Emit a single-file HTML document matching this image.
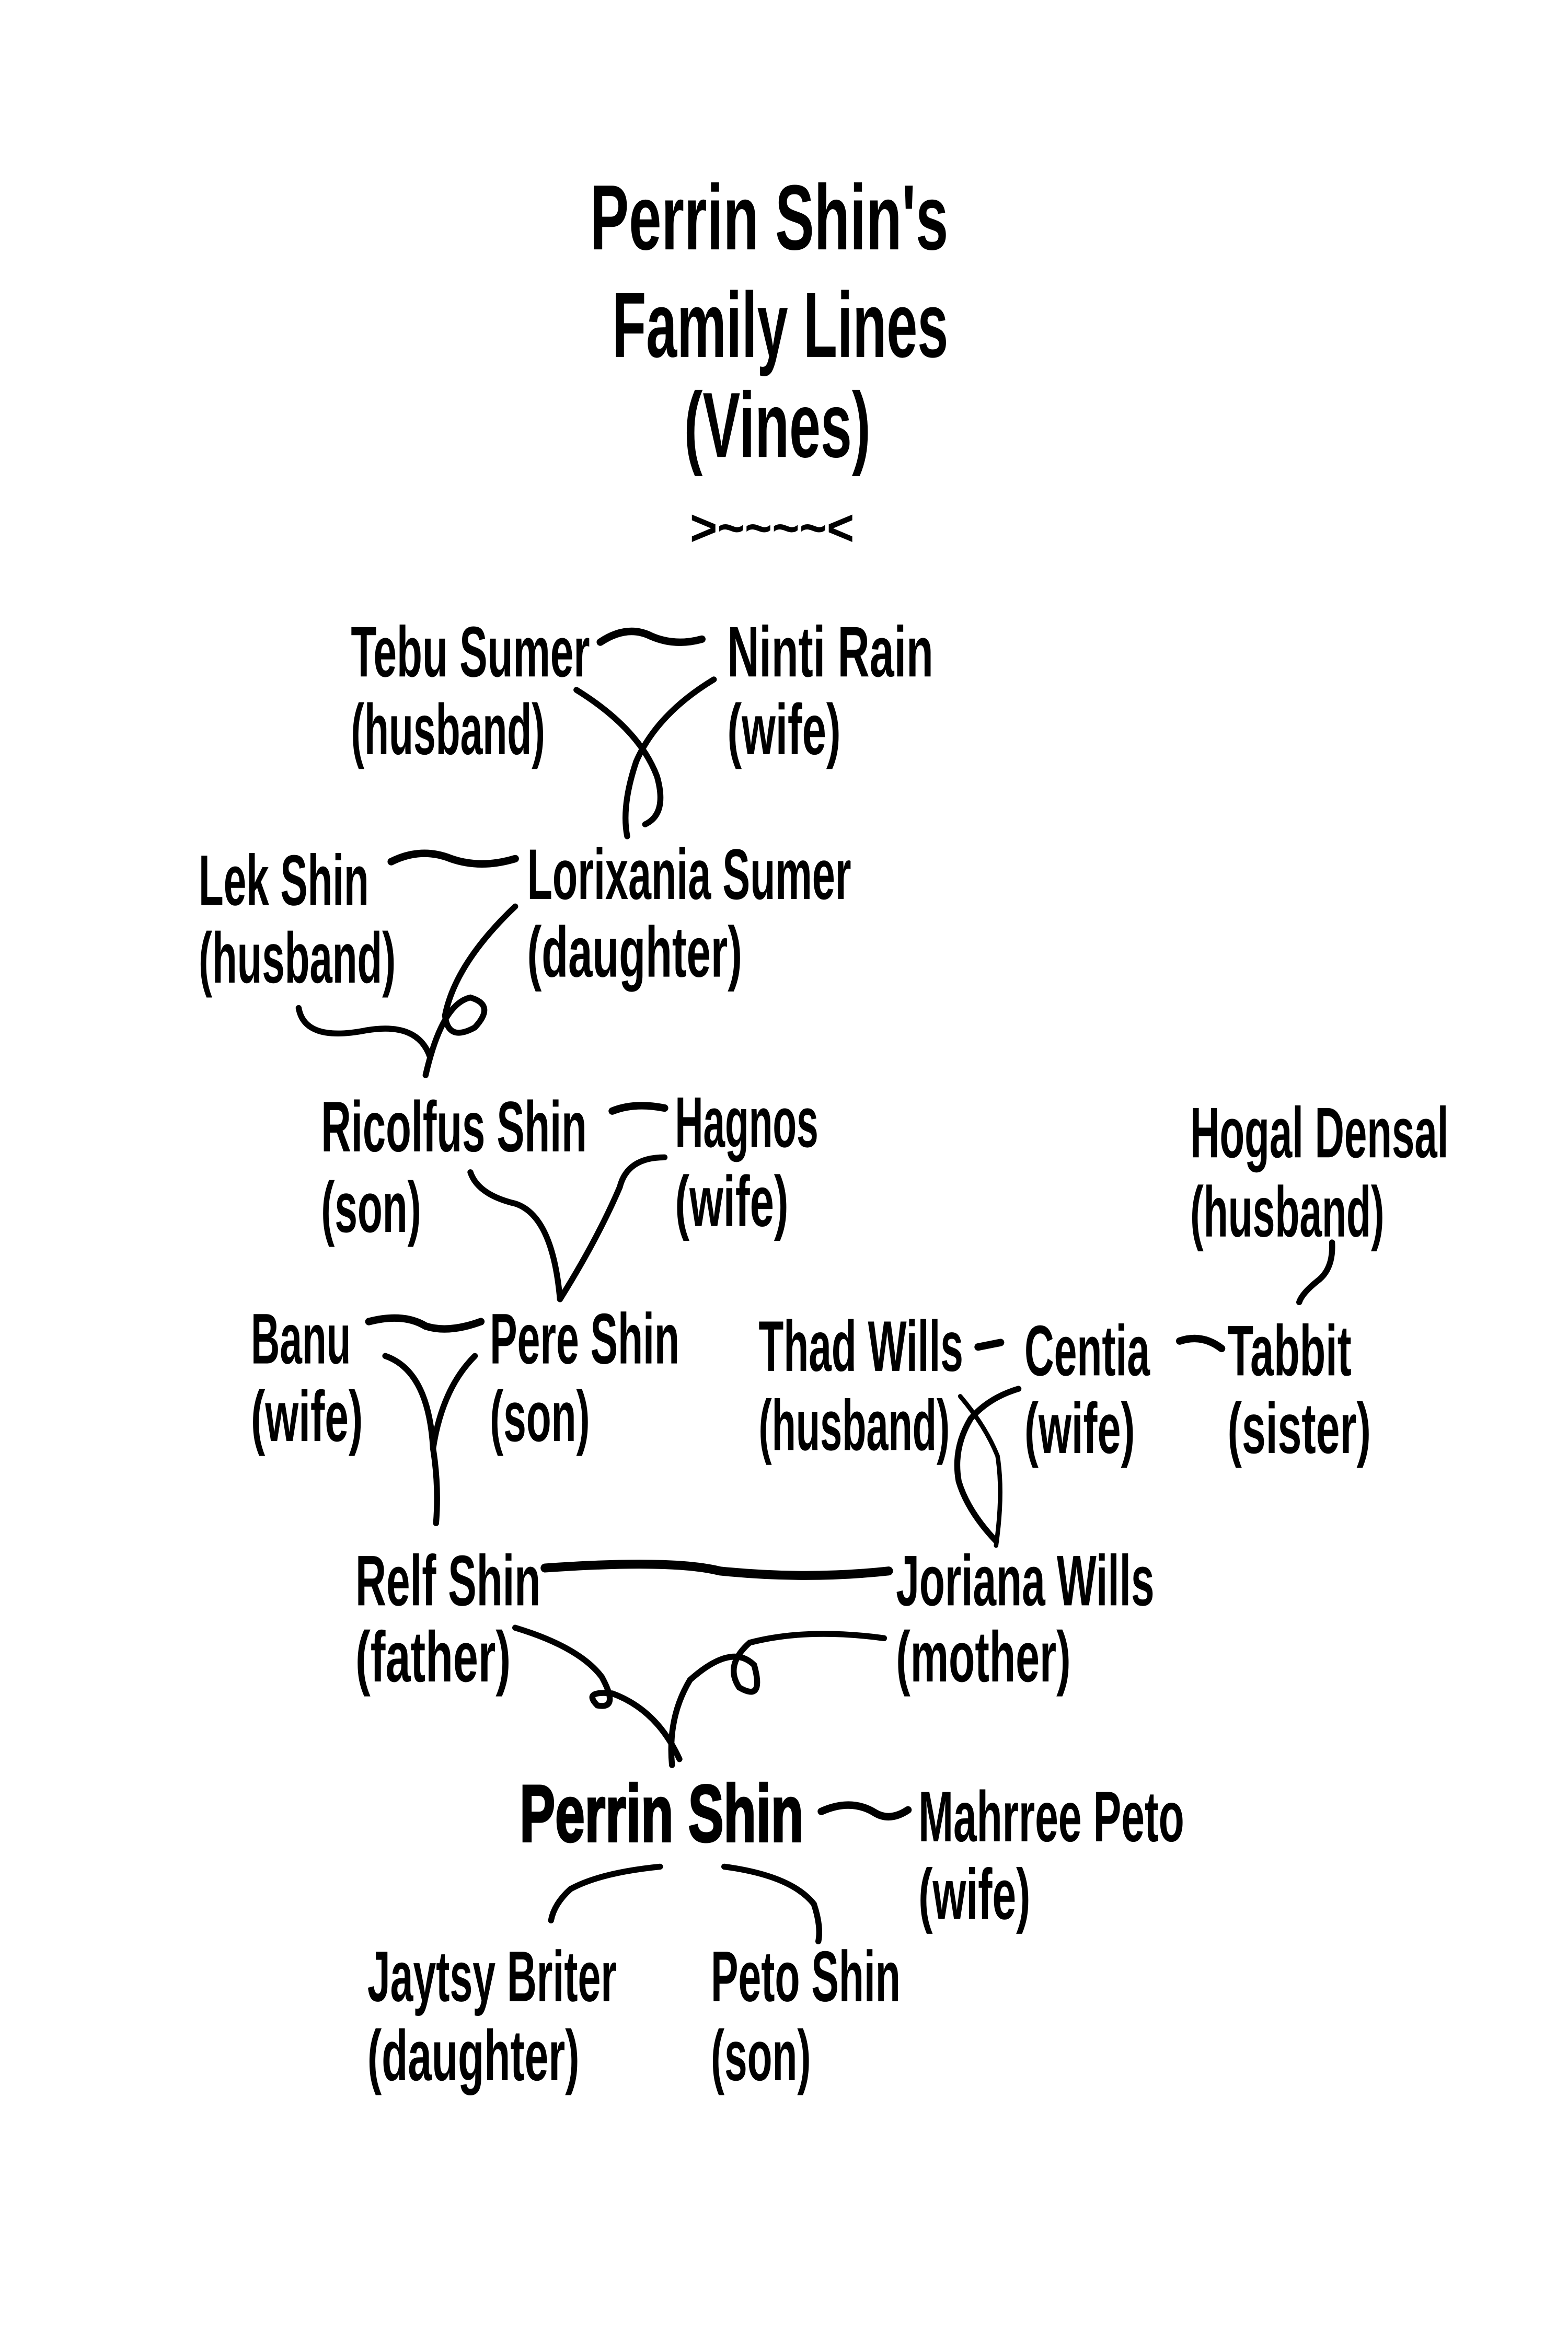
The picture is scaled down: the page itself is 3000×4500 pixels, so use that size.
<!DOCTYPE html>
<html><head><meta charset="utf-8"><style>
html,body{margin:0;padding:0;background:#fff;}
svg{display:block;}
text{font-family:"Liberation Sans",sans-serif;fill:#000;font-weight:bold;}
</style></head><body>
<svg width="3000" height="4500" viewBox="0 0 1050 1575" xmlns="http://www.w3.org/2000/svg">
<rect width="1050" height="1575" fill="#fff"/>
<g font-size="62">
<text x="395" y="167" textLength="240" lengthAdjust="spacingAndGlyphs">Perrin Shin's</text>
<text x="410" y="239" textLength="225" lengthAdjust="spacingAndGlyphs">Family Lines</text>
<text x="458" y="306" textLength="125" lengthAdjust="spacingAndGlyphs">(Vines)</text>
</g>
<text x="462" y="365" font-size="34" textLength="110" lengthAdjust="spacingAndGlyphs" font-weight="normal">&gt;~~~~&lt;</text>
<g font-size="48" font-weight="normal">
<text x="235" y="453" textLength="160" lengthAdjust="spacingAndGlyphs">Tebu Sumer</text>
<text x="235" y="505" textLength="130" lengthAdjust="spacingAndGlyphs">(husband)</text>
<text x="487" y="453" textLength="138" lengthAdjust="spacingAndGlyphs">Ninti Rain</text>
<text x="487" y="505" textLength="76" lengthAdjust="spacingAndGlyphs">(wife)</text>
<text x="133" y="606" textLength="114" lengthAdjust="spacingAndGlyphs">Lek Shin</text>
<text x="133" y="658" textLength="132" lengthAdjust="spacingAndGlyphs">(husband)</text>
<text x="353" y="602" textLength="217" lengthAdjust="spacingAndGlyphs">Lorixania Sumer</text>
<text x="353" y="654" textLength="144" lengthAdjust="spacingAndGlyphs">(daughter)</text>
<text x="215" y="771" textLength="178" lengthAdjust="spacingAndGlyphs">Ricolfus Shin</text>
<text x="215" y="825" textLength="67" lengthAdjust="spacingAndGlyphs">(son)</text>
<text x="452" y="768" textLength="96" lengthAdjust="spacingAndGlyphs">Hagnos</text>
<text x="452" y="821" textLength="76" lengthAdjust="spacingAndGlyphs">(wife)</text>
<text x="797" y="775" textLength="173" lengthAdjust="spacingAndGlyphs">Hogal Densal</text>
<text x="797" y="828" textLength="130" lengthAdjust="spacingAndGlyphs">(husband)</text>
<text x="168" y="913" textLength="67" lengthAdjust="spacingAndGlyphs">Banu</text>
<text x="168" y="965" textLength="75" lengthAdjust="spacingAndGlyphs">(wife)</text>
<text x="328" y="913" textLength="127" lengthAdjust="spacingAndGlyphs">Pere Shin</text>
<text x="328" y="965" textLength="67" lengthAdjust="spacingAndGlyphs">(son)</text>
<text x="508" y="918" textLength="137" lengthAdjust="spacingAndGlyphs">Thad Wills</text>
<text x="508" y="971" textLength="128" lengthAdjust="spacingAndGlyphs">(husband)</text>
<text x="686" y="921" textLength="84" lengthAdjust="spacingAndGlyphs">Centia</text>
<text x="686" y="973" textLength="74" lengthAdjust="spacingAndGlyphs">(wife)</text>
<text x="822" y="921" textLength="83" lengthAdjust="spacingAndGlyphs">Tabbit</text>
<text x="822" y="973" textLength="96" lengthAdjust="spacingAndGlyphs">(sister)</text>
<text x="238" y="1075" textLength="124" lengthAdjust="spacingAndGlyphs">Relf Shin</text>
<text x="238" y="1126" textLength="104" lengthAdjust="spacingAndGlyphs">(father)</text>
<text x="600" y="1075" textLength="173" lengthAdjust="spacingAndGlyphs">Joriana Wills</text>
<text x="600" y="1126" textLength="117" lengthAdjust="spacingAndGlyphs">(mother)</text>
<text x="615" y="1233" textLength="178" lengthAdjust="spacingAndGlyphs">Mahrree Peto</text>
<text x="615" y="1285" textLength="75" lengthAdjust="spacingAndGlyphs">(wife)</text>
<text x="246" y="1340" textLength="167" lengthAdjust="spacingAndGlyphs">Jaytsy Briter</text>
<text x="246" y="1393" textLength="142" lengthAdjust="spacingAndGlyphs">(daughter)</text>
<text x="476" y="1340" textLength="127" lengthAdjust="spacingAndGlyphs">Peto Shin</text>
<text x="476" y="1393" textLength="67" lengthAdjust="spacingAndGlyphs">(son)</text>
</g>
<text x="348" y="1233" font-size="54" textLength="190" lengthAdjust="spacingAndGlyphs" stroke="#000" stroke-width="1.5">Perrin Shin</text>
<g fill="none" stroke="#000" stroke-width="4" stroke-linecap="round">
<path d="M402 430 Q420 418 436 426 Q452 433 470 428" stroke-width="5"/>
<path d="M386 462 Q428 488 440 520 Q447 545 432 552"/>
<path d="M478 455 Q440 478 426 510 Q416 540 420 560"/>
<path d="M262 577 Q282 567 302 575 Q322 582 345 575" stroke-width="5"/>
<path d="M200 675 Q204 698 245 690 Q280 684 288 708"/>
<path d="M345 607 Q305 645 298 680 Q300 698 318 688 Q332 673 315 668 Q296 672 285 720"/>
<path d="M410 744 Q425 738 445 742" stroke-width="5"/>
<path d="M315 785 Q320 800 345 806 Q370 814 375 870"/>
<path d="M445 775 Q420 775 415 795 Q400 830 375 870"/>
<path d="M247 885 Q270 879 285 888 Q300 893 322 885" stroke-width="5"/>
<path d="M258 908 Q287 918 290 970 Q294 995 292 1020"/>
<path d="M318 908 Q296 930 290 970"/>
<path d="M655 902 L670 899" stroke-width="5"/>
<path d="M790 898 Q805 893 818 903" stroke-width="5"/>
<path d="M892 832 Q893 850 882 858 Q872 866 870 872"/>
<path d="M682 930 Q662 936 650 950 Q638 970 642 992 Q648 1012 667 1032" stroke-width="4"/>
<path d="M643 935 Q660 955 668 975 Q672 1000 667 1035" stroke-width="3"/>
<path d="M365 1050 Q450 1044 482 1052 Q540 1058 595 1052" stroke-width="6"/>
<path d="M345 1090 Q388 1103 403 1123 Q415 1145 400 1142 Q390 1132 410 1134 Q440 1145 455 1178"/>
<path d="M592 1097 Q540 1090 502 1100 Q485 1115 495 1130 Q512 1140 505 1115 Q490 1100 462 1125 Q447 1150 450 1182"/>
<path d="M550 1213 Q570 1204 586 1214 Q596 1220 608 1212" stroke-width="5"/>
<path d="M442 1250 Q402 1254 382 1265 Q371 1275 369 1286"/>
<path d="M485 1250 Q530 1256 545 1275 Q550 1290 548 1300"/>
</g>
</svg>
</body></html>
